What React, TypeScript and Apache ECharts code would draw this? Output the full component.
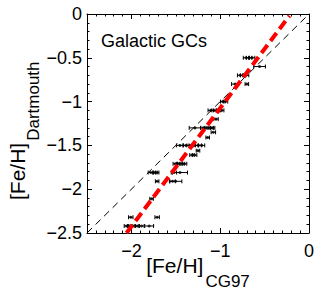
import React, { useEffect, useRef } from 'react';
import * as echarts from 'echarts';

// [Fe/H] on the CG97 scale (x), Dartmouth fit (y), and x error half-widths
const feCG97 = [
  -0.71, -0.675, -0.64,
  -0.557,
  -0.776, -0.742, -0.708,
  -0.832, -0.70,
  -0.971, -0.94,
  -1.107, -1.069, -1.02, -0.983,
  -1.047,
  -1.284, -1.19, -1.145, -1.105, -1.085,
  -1.077,
  -1.141,
  -1.453, -1.386, -1.34, -1.284, -1.246, -1.209,
  -1.25,
  -1.318, -1.288,
  -1.506, -1.468, -1.431, -1.401,
  -1.781, -1.736, -1.71, -1.521, -1.453,
  -1.71, -1.536, -1.502,
  -1.773,
  -2.007, -1.71,
  -2.056, -2.018, -1.98, -1.935, -1.886, -1.80,
];
const feDart = [
  -0.5, -0.5, -0.5,
  -0.6,
  -0.7, -0.7, -0.7,
  -0.8, -0.8,
  -1.0, -1.0,
  -1.1, -1.1, -1.1, -1.1,
  -1.2,
  -1.3, -1.3, -1.3, -1.3, -1.3,
  -1.35,
  -1.41,
  -1.5, -1.5, -1.5, -1.5, -1.5, -1.5,
  -1.56,
  -1.61, -1.61,
  -1.71, -1.71, -1.71, -1.71,
  -1.81, -1.81, -1.81, -1.81, -1.81,
  -1.91, -1.91, -1.91,
  -2.11,
  -2.32, -2.32,
  -2.42, -2.42, -2.42, -2.42, -2.42, -2.42,
];
const errCG97 = [
  0.03, 0.03, 0.03,
  0.066,
  0.03, 0.03, 0.03,
  0.04, 0.02,
  0.025, 0.025,
  0.03, 0.025, 0.025, 0.025,
  0.025,
  0.065, 0.03, 0.03, 0.03, 0.025,
  0.025,
  0.02,
  0.04, 0.035, 0.035, 0.035, 0.035, 0.035,
  0.02,
  0.025, 0.025,
  0.025, 0.025, 0.025, 0.025,
  0.03, 0.025, 0.02, 0.03, 0.085,
  0.02, 0.03, 0.07,
  0.02,
  0.025, 0.025,
  0.025, 0.025, 0.025, 0.025, 0.03, 0.05,
];

// one-to-one reference line and linear fit (end points)
const oneToOneX = [-2.5, 0];
const oneToOneY = [-2.5, 0];
const fitX = [-2.055, -0.22];
const fitY = [-2.5, -0.02];

const xMajorTicks = [-2, -1, 0];
const axisMin = -2.5;
const axisMax = 0;

const FONT = '"Liberation Sans", Arial, Helvetica, sans-serif';

function measure(text: string, size: number): number {
  const c = document.createElement('canvas').getContext('2d');
  if (!c) return text.length * size * 0.55;
  c.font = `${size}px ${FONT}`;
  return c.measureText(text).width;
}

const fmt = (v: number) => (v === 0 ? '0' : String(v).replace('-', '\u2212'));

export default function App() {
  const ref = useRef<HTMLDivElement>(null);
  useEffect(() => {
    if (!ref.current) return;
    const chart = echarts.init(ref.current, undefined, { renderer: 'svg' });

    const gl = 87, gt = 14, gw = 222, gh = 219;
    const mainSize = 21, subSize = 17;
    const w1 = measure('[Fe/H]', mainSize);
    const w2x = measure('CG97', subSize);
    const cx = gl + gw / 2;
    const xStart = cx - (w1 + w2x + 2) / 2;
    const yStart = 200;

    const points = feCG97.map((x, i) => [x, feDart[i], errCG97[i]]);

    const minorX = {
      type: 'value', min: axisMin, max: axisMax, interval: 0.1,
      axisLine: { show: false, onZero: false },
      axisTick: { show: true, inside: true, length: 2.5, lineStyle: { color: '#000', width: 1 } },
      axisLabel: { show: false }, splitLine: { show: false },
    };
    const majorX = (showLabel: boolean) => ({
      type: 'value', min: axisMin, max: axisMax, interval: 0.5,
      axisLine: { show: true, onZero: false, lineStyle: { color: '#000', width: 1 } },
      axisTick: { show: true, inside: true, length: 5, customValues: xMajorTicks, lineStyle: { color: '#000', width: 1 } },
      axisLabel: {
        show: showLabel, customValues: xMajorTicks, margin: 9, color: '#000',
        fontSize: 18, fontFamily: FONT, formatter: fmt,
      },
      splitLine: { show: false },
    });
    const yAx = (pos: string, showLabel: boolean) => ({
      type: 'value', position: pos, min: axisMin, max: axisMax, interval: 0.5,
      axisLine: { show: true, onZero: false, lineStyle: { color: '#000', width: 1 } },
      axisTick: { show: true, inside: true, length: 5, lineStyle: { color: '#000', width: 1 } },
      minorTick: { show: true, splitNumber: 5, length: 2.5, lineStyle: { color: '#000', width: 1 } },
      axisLabel: {
        show: showLabel, margin: 5, color: '#000', fontSize: 18, fontFamily: FONT, formatter: fmt,
      },
      splitLine: { show: false }, minorSplitLine: { show: false },
    });

    chart.setOption({
      animation: false,
      backgroundColor: '#fff',
      grid: { left: gl, top: gt, width: gw, height: gh },
      xAxis: [
        { ...minorX, position: 'bottom' },
        { ...majorX(true), position: 'bottom' },
        { ...minorX, position: 'top' },
        { ...majorX(false), position: 'top' },
      ],
      yAxis: [yAx('left', true), yAx('right', false)],
      graphic: [
        { type: 'text', left: 101, top: 32, style: { text: 'Galactic GCs', fontSize: 18, fontFamily: FONT, fill: '#000' } },
        { type: 'text', x: xStart, y: 265.5, style: { text: '[Fe/H]', fontSize: mainSize, fontFamily: FONT, fill: '#000', align: 'left', verticalAlign: 'middle' } },
        { type: 'text', x: xStart + w1 + 2, y: 281, style: { text: 'CG97', fontSize: subSize, fontFamily: FONT, fill: '#000', align: 'left', verticalAlign: 'middle' } },
        { type: 'text', x: 17, y: yStart, rotation: Math.PI / 2, style: { text: '[Fe/H]', fontSize: mainSize, fontFamily: FONT, fill: '#000', align: 'left', verticalAlign: 'middle' } },
        { type: 'text', x: 33, y: yStart - w1 - 2, rotation: Math.PI / 2, style: { text: 'Dartmouth', fontSize: subSize, fontFamily: FONT, fill: '#000', align: 'left', verticalAlign: 'middle' } },
      ],
      series: [
        {
          type: 'line', xAxisIndex: 0, yAxisIndex: 0, silent: true, symbol: 'none',
          data: oneToOneX.map((x, i) => [x, oneToOneY[i]]),
          lineStyle: { color: '#000', width: 1, type: [7, 5] },
        },
        {
          type: 'custom', xAxisIndex: 0, yAxisIndex: 0, silent: true,
          data: points,
          renderItem: (params: any, api: any) => {
            const x = api.value(0), y = api.value(1), e = api.value(2);
            const a = api.coord([x - e, y]);
            const b = api.coord([x + e, y]);
            const cap = 2;
            const st = { stroke: '#000', lineWidth: 1 };
            return {
              type: 'group',
              children: [
                { type: 'line', shape: { x1: a[0], y1: a[1], x2: b[0], y2: b[1] }, style: st },
                { type: 'line', shape: { x1: a[0], y1: a[1] - cap, x2: a[0], y2: a[1] + cap }, style: st },
                { type: 'line', shape: { x1: b[0], y1: b[1] - cap, x2: b[0], y2: b[1] + cap }, style: st },
              ],
            };
          },
        },
        {
          type: 'scatter', xAxisIndex: 0, yAxisIndex: 0, silent: true,
          symbol: 'circle', symbolSize: 3,
          itemStyle: { color: '#000' },
          data: points.map((p) => [p[0], p[1]]),
        },
        {
          type: 'line', xAxisIndex: 0, yAxisIndex: 0, silent: true, symbol: 'none',
          data: fitX.map((x, i) => [x, fitY[i]]),
          lineStyle: { color: '#ff0000', width: 4, type: [10, 5], cap: 'butt' },
        },
      ],
    });
    return () => chart.dispose();
  }, []);
  return <div ref={ref} style={{ position: 'fixed', left: 0, top: 0, width: 327, height: 291 }} />;
}
